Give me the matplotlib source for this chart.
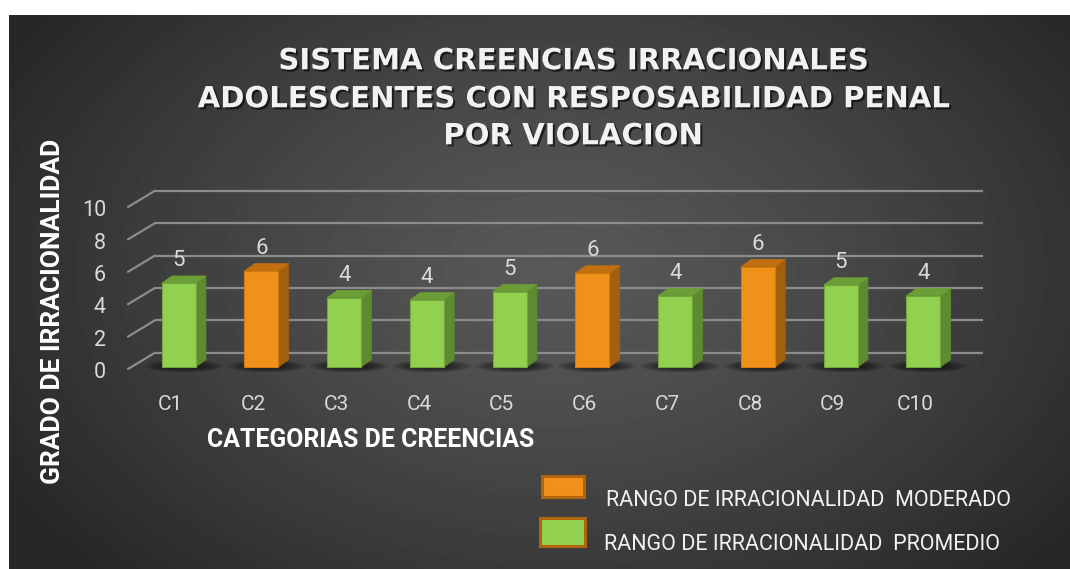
import numpy as np
import matplotlib
matplotlib.use("Agg")
import matplotlib.pyplot as plt
from matplotlib.patches import Polygon, Rectangle, Ellipse, ConnectionPatch
from matplotlib.transforms import offset_copy
import matplotlib.patheffects as pe

# ---------------- data ----------------
categories = ["C1", "C2", "C3", "C4", "C5", "C6", "C7", "C8", "C9", "C10"]
values = [5.17, 5.93, 4.28, 4.14, 4.65, 5.80, 4.40, 6.19, 5.06, 4.40]
levels = ["PROMEDIO", "MODERADO", "PROMEDIO", "PROMEDIO", "PROMEDIO",
          "MODERADO", "PROMEDIO", "MODERADO", "PROMEDIO", "PROMEDIO"]
y_ticks = [0, 2, 4, 6, 8, 10]
title_lines = ["SISTEMA CREENCIAS IRRACIONALES",
               "ADOLESCENTES CON RESPOSABILIDAD PENAL",
               "POR VIOLACION"]
x_title = "CATEGORIAS DE CREENCIAS"
y_title = "GRADO DE IRRACIONALIDAD"
legend_keys = ["MODERADO", "PROMEDIO"]
legend_labels = ["RANGO DE IRRACIONALIDAD  MODERADO",
                 "RANGO DE IRRACIONALIDAD  PROMEDIO"]

# ---------------- styles ----------------
FRONT = {"MODERADO": "#f0921a", "PROMEDIO": "#92d050"}
EDGE = {"MODERADO": "#d07a10", "PROMEDIO": "#74a83c"}
TOP = {"MODERADO": "#c2700f", "PROMEDIO": "#6c9e37"}
SIDE = {"MODERADO": "#a3600c", "PROMEDIO": "#5e8a30"}
GRID = "#8c8c8c"
LIGHT = "#d9d9d9"
FONT = "Roboto"
TITLE_FONT = "DejaVu Sans"

W, H = 1070, 569
fig = plt.figure(figsize=(W / 100, H / 100), dpi=100)
fig.patch.set_facecolor("white")

# dark radial-gradient background panel
bg = fig.add_axes([9 / W, 0, (W - 9) / W, (H - 15) / H])
xx, yy = np.meshgrid(np.arange(9, W), np.arange(15, H))
r = np.sqrt(((xx - 560) / 640.0) ** 2 + ((yy - 270) / 430.0) ** 2)
r = np.clip(r, 0, 1)
shade = (0x58 - (0x58 - 0x27) * (r ** 1.3)) / 255.0
bg.imshow(shade, cmap="gray", vmin=0, vmax=1, aspect="auto",
          interpolation="bilinear")
bg.set_axis_off()

# main plotting axes (bar front-face plane)
ax = fig.add_axes([137.3 / W, (H - 367) / H, 827.5 / W, 162 / H])
ax.set_xlim(-0.5, len(categories) - 0.5)
ax.set_ylim(0, 10)
ax.set_axis_off()
ax.patch.set_alpha(0)

p0 = ax.transData.transform((0, 0))
p1 = ax.transData.transform((1, 1))
px_x, px_y = p1[0] - p0[0], p1[1] - p0[1]

back_tr = offset_copy(ax.transData, fig=fig, x=17.7, y=14.3, units="dots")
front_tr = offset_copy(ax.transData, fig=fig, x=-9.3, y=-2.0, units="dots")
tick_tr = offset_copy(ax.transData, fig=fig, x=-31.3, y=-5.7, units="dots")
cat_tr = offset_copy(ax.transData, fig=fig, x=-8.0, y=-43.0, units="dots")

x0, x1 = -0.5, len(categories) - 0.5
for v in y_ticks:
    ax.plot([x0, x1], [v, v], transform=back_tr, color=GRID, lw=1.6,
            clip_on=False, zorder=1, solid_capstyle="butt")
    con = ConnectionPatch(xyA=(x0, v), coordsA=front_tr, xyB=(x0, v),
                          coordsB=back_tr, color=GRID, lw=1.6, zorder=1)
    ax.add_artist(con)
    ax.text(x0, v, str(v), transform=tick_tr, ha="right", va="center",
            fontsize=15.5, color=LIGHT, family=FONT)

x = np.arange(len(categories))
bw = 34.0 / px_x
ddx = 10.3 / px_x
ddy = 7.3 / px_y

# soft shadows under bars
for xi in x:
    for k in range(6):
        f = 1.0 - k * 0.1
        ax.add_patch(Ellipse((xi + 0.06, 0.05), 0.95 * f, 0.75 * f,
                             facecolor="black", edgecolor="none", alpha=0.11,
                             zorder=2, clip_on=False))

ax.bar(x, values, width=bw, color=[FRONT[l] for l in levels],
       edgecolor=[EDGE[l] for l in levels], linewidth=0.8, zorder=4,
       clip_on=False)

for xi, v, lev in zip(x, values, levels):
    xr = xi + bw / 2
    xl = xi - bw / 2
    side = Polygon([(xr, 0), (xr + ddx, ddy), (xr + ddx, v + ddy), (xr, v)],
                   closed=True, facecolor=SIDE[lev], edgecolor=SIDE[lev],
                   lw=0.5, zorder=3, clip_on=False)
    top = Polygon([(xl, v), (xr, v), (xr + ddx, v + ddy), (xl + ddx, v + ddy)],
                  closed=True, facecolor=TOP[lev], edgecolor=TOP[lev],
                  lw=0.5, zorder=3, clip_on=False)
    ax.add_patch(side)
    ax.add_patch(top)
    ax.annotate(f"{v:.0f}", (xi, v), xytext=(0, 17),
                textcoords="offset pixels", ha="center", va="baseline",
                fontsize=16, color=LIGHT, family=FONT, annotation_clip=False)

for xi, c in zip(x, categories):
    ax.text(xi, 0, c, transform=cat_tr, ha="center", va="baseline",
            fontsize=15, color=LIGHT, family=FONT)

# axis titles
fig.text(371 / W, (H - 447.3) / H, x_title, ha="center", va="baseline",
         fontsize=17.9, fontweight="bold", color="white", family=FONT)
fig.text(53 / W, 1 - 311 / H, y_title, rotation=90, ha="center",
         va="center", fontsize=19, fontweight="bold", color="white",
         family=FONT)

# title
shadow = [pe.withSimplePatchShadow(offset=(1.5, -1.5), shadow_rgbFace="black",
                                   alpha=0.6)]
for line, base in zip(title_lines, [69.3, 107.3, 144.3]):
    fig.text(573 / W, (H - base) / H, line, ha="center", va="baseline",
             fontsize=21, fontweight="bold", color="#f2f2f2",
             family=TITLE_FONT, path_effects=shadow)

# legend
legend_boxes = [(542, 476, 42, 21), (540, 518, 45, 28)]
legend_text_pos = [(606, 506), (604, 550)]
for key, lab, (bx, by, bwid, bh), (tx, ty) in zip(legend_keys, legend_labels,
                                                  legend_boxes, legend_text_pos):
    fig.add_artist(Rectangle((bx / W, (H - by - bh) / H), bwid / W, bh / H,
                             transform=fig.transFigure, facecolor=FRONT[key],
                             edgecolor="#b0640e", lw=2.2))
    fig.text(tx / W, (H - ty) / H, lab, ha="left", va="baseline",
             fontsize=15.5, color="#f2f2f2", family=FONT)

fig.savefig("out.png", dpi=100, facecolor=fig.get_facecolor())
